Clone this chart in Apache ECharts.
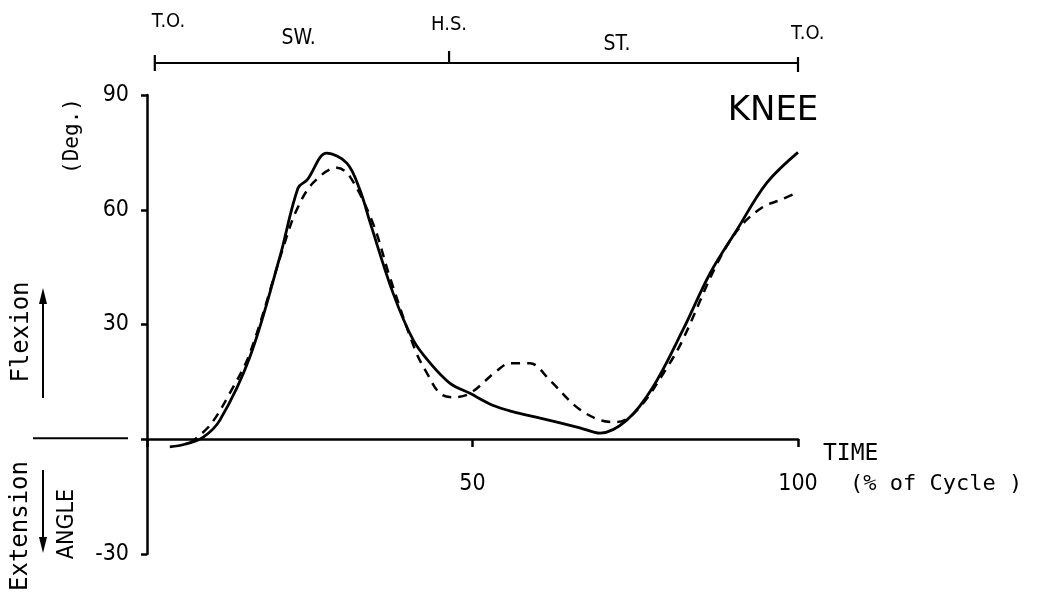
<!DOCTYPE html>
<html><head><meta charset="utf-8">
<script src="https://cdn.jsdelivr.net/npm/echarts@6/dist/echarts.min.js"></script>
<style>html,body{margin:0;padding:0;background:#fff}#c{width:1042px;height:602px}</style>
</head><body><div id="c"></div>
<script>
// Gait cycle (%) and knee angle (deg) - solid curve
const solidT = [3.5, 5.8, 8.6, 11.2, 15.8, 20.4, 23.2, 24.6, 27.6, 30.7, 32.7, 34.3, 37.8, 40.9, 43.5, 46.5, 49.6, 53.1, 56, 60.4, 66.5, 69.6, 73.7, 77.7, 82.3, 86.5, 90.6, 95.2, 100];
const solidV = [-2, -1.3, 0.5, 5, 21.5, 47.6, 65.7, 67.8, 74.8, 72.2, 65.2, 56.5, 38.2, 25.9, 19.9, 14.7, 12, 8.9, 7.3, 5.5, 3, 1.6, 5, 13.6, 28.5, 43.4, 54.7, 67, 75];
// dashed curve
const dashT = [6.6, 9.7, 12.7, 15.8, 20.9, 23, 25.5, 29.2, 31.2, 34.7, 37.3, 41.2, 43, 45, 47, 49.6, 53.8, 55.8, 58.8, 61.9, 66, 69.6, 72.2, 75.5, 79.9, 82.3, 87.6, 91.1, 94.6, 97.2, 100];
const dashV = [-1, 3.7, 12, 22.5, 50, 60, 67, 71, 68.6, 56.5, 42.4, 23.3, 17.3, 12, 11, 12, 18, 19.9, 19.9, 15.4, 8.4, 5, 4.5, 8, 18.8, 26, 46, 55.5, 60.7, 62.5, 64.6];
// axis ticks
const yTicks = [-30, 0, 30, 60, 90];
const xTicks = [0, 50, 100];
// phase bar
const phaseMarkT = [1.2, 46.4, 100];
const phaseMarkLabels = ['T.O.', 'H.S.', 'T.O.'];
const phaseMarkLabelT = [3.3, 46.4, 101.5];
const phaseNames = ['SW.', 'ST.'];
const phaseNameT = [23.3, 72.2];

const chart = echarts.init(document.getElementById('c'));
const FONT = '"DejaVu Sans Condensed", "DejaVu Sans", sans-serif';
const MONO = '"DejaVu Sans Mono", monospace';
const zip = (a, b) => a.map((v, i) => [v, b[i]]);

chart.setOption({
  backgroundColor: '#fff',
  animation: false,
  grid: { left: 147, right: 244, top: 95, bottom: 48, outerBoundsMode: 'none', containLabel: false },
  xAxis: {
    type: 'value', min: xTicks[0], max: xTicks[xTicks.length - 1], interval: 50,
    offset: -115,
    axisLine: { onZero: false, lineStyle: { color: '#000', width: 2.5 } },
    axisTick: { show: true, length: 8, lineStyle: { color: '#000', width: 2.5 } },
    axisLabel: { margin: 34, color: '#000', fontSize: 23, fontFamily: FONT, formatter: v => v === 0 ? '' : String(v) },
    splitLine: { show: false }
  },
  yAxis: {
    type: 'value', min: yTicks[0], max: yTicks[yTicks.length - 1], interval: 30,
    axisLine: { show: true, lineStyle: { color: '#000', width: 2.5 } },
    axisTick: { show: true, length: 6, lineStyle: { color: '#000', width: 2.5 } },
    axisLabel: { margin: 18, color: '#000', fontSize: 23, fontFamily: FONT, formatter: v => v === 0 ? '' : String(v) },
    splitLine: { show: false }
  },
  series: [
    { type: 'line', data: zip(solidT, solidV), smooth: 0.35, symbol: 'none',
      lineStyle: { color: '#000', width: 2.8 } },
    { type: 'line', data: zip(dashT, dashV), smooth: 0.35, symbol: 'none',
      lineStyle: { color: '#000', width: 2.5, type: [9, 7] } }
  ]
});

// annotations positioned from axis scales
const px = t => chart.convertToPixel({ gridIndex: 0 }, [t, 0])[0];
const py = v => chart.convertToPixel({ gridIndex: 0 }, [0, v])[1];
const barY = 63;
const g = [];
const ln = (x1, y1, x2, y2, w) => ({ type: 'line', shape: { x1, y1, x2, y2 }, style: { stroke: '#000', lineWidth: w || 2.5 } });
const txt = (text, x, y, font, opts) => Object.assign({ type: 'text', x, y, style: Object.assign({ text, fill: '#000', font, align: 'center', verticalAlign: 'middle' }, (opts && opts.style) || {}) }, opts && opts.el || {});

g.push(ln(px(phaseMarkT[0]), barY, px(phaseMarkT[2]), barY, 2.2));
g.push(ln(px(phaseMarkT[0]), barY - 8, px(phaseMarkT[0]), barY + 8, 2.2));
g.push(ln(px(phaseMarkT[1]), barY - 12, px(phaseMarkT[1]), barY, 2.2));
g.push(ln(px(phaseMarkT[2]), barY - 6, px(phaseMarkT[2]), barY + 9, 2.2));
const markLabelY = [22, 25, 34];
phaseMarkLabels.forEach((s, i) => g.push(txt(s, px(phaseMarkLabelT[i]), markLabelY[i], '20px ' + FONT)));
const nameY = [39, 45];
phaseNames.forEach((s, i) => g.push(txt(s, px(phaseNameT[i]), nameY[i], '21px ' + FONT)));

g.push(txt('KNEE', 773, 111, '34px "DejaVu Sans", sans-serif'));
g.push(txt('TIME', 823, 454, '23px ' + MONO, { style: { align: 'left' } }));
g.push(txt('(% of Cycle )', 850, 484, '22px ' + MONO, { style: { align: 'left' } }));

// left-side labels
const zeroY = py(0);
g.push(ln(33, zeroY - 1, 128, zeroY - 1, 2.2));
g.push(txt('(Deg.)', 73, 136, '21px ' + MONO, { el: { rotation: Math.PI / 2 } }));
g.push(txt('Flexion', 22, 332, '24px ' + MONO, { el: { rotation: Math.PI / 2 } }));
g.push(txt('Extension', 21, 526, '24px ' + MONO, { el: { rotation: Math.PI / 2 } }));
g.push(txt('ANGLE', 67, 524, '23px ' + FONT, { el: { rotation: Math.PI / 2 } }));
// arrows
g.push(ln(43, 300, 43, 398, 2));
g.push({ type: 'polygon', shape: { points: [[43, 288], [39, 304], [47, 304]] }, style: { fill: '#000' } });
g.push(ln(43, 470, 43, 540, 2));
g.push({ type: 'polygon', shape: { points: [[43, 553], [39, 537], [47, 537]] }, style: { fill: '#000' } });

chart.setOption({ graphic: { elements: g } });
</script>
</body></html>
